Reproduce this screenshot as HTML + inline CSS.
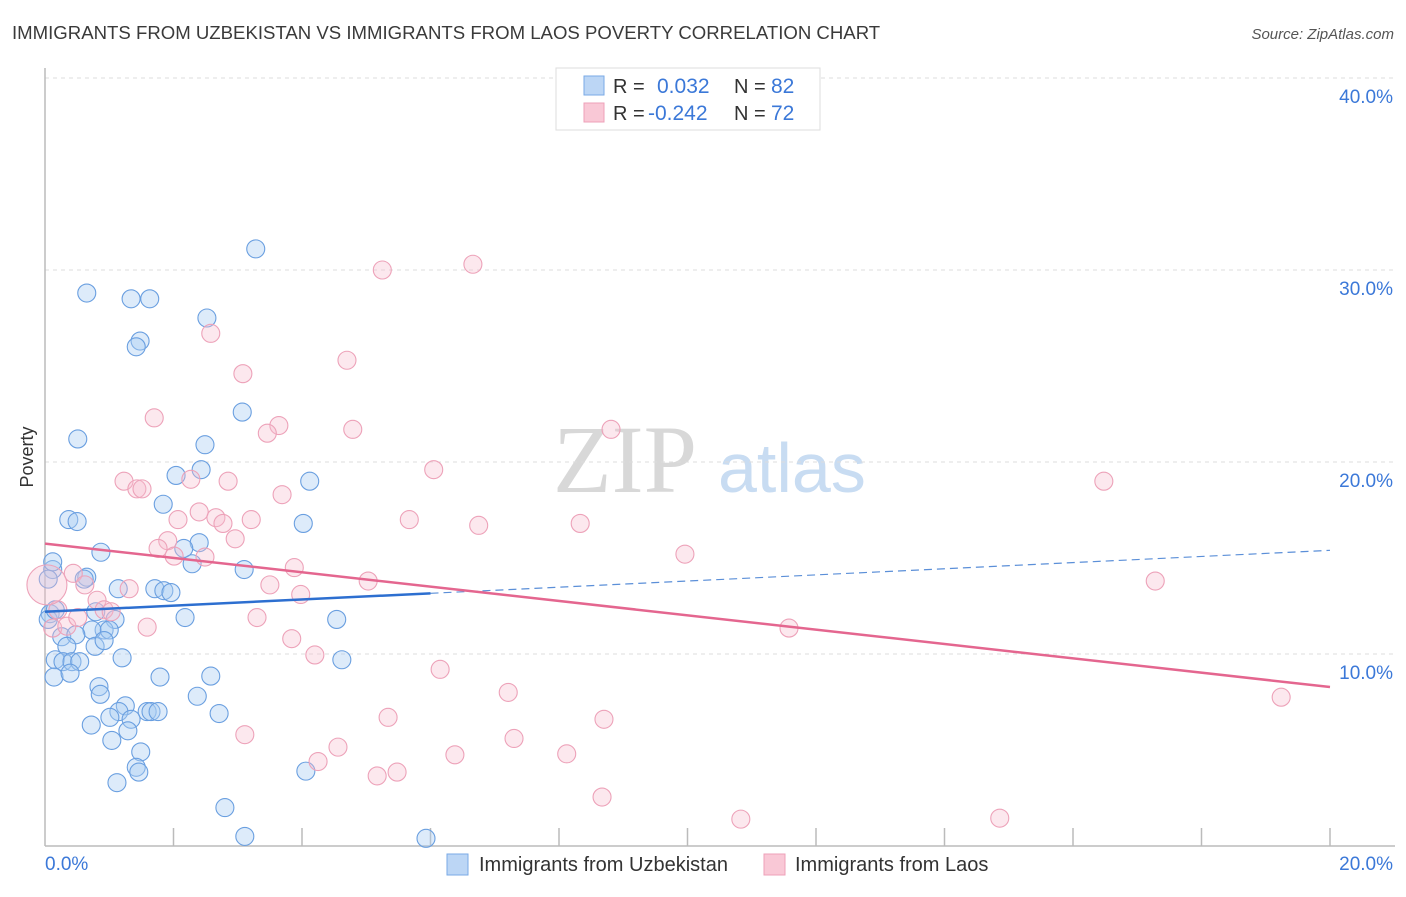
<!DOCTYPE html>
<html><head><meta charset="utf-8"><style>
body{margin:0;background:#fff;font-family:"Liberation Sans",sans-serif;}
svg text{font-family:"Liberation Sans",sans-serif;}
</style></head><body>
<svg id="chart" width="1406" height="892" xmlns="http://www.w3.org/2000/svg">
<text x="12" y="39" font-size="18.6" fill="#3a3a3a">IMMIGRANTS FROM UZBEKISTAN VS IMMIGRANTS FROM LAOS POVERTY CORRELATION CHART</text>
<text x="1394" y="39" font-size="15" fill="#555" font-style="italic" text-anchor="end">Source: ZipAtlas.com</text>
<g>
<text x="553" y="492" font-size="96" fill="#d8d8d8" font-family="Liberation Serif" style="font-family:'Liberation Serif',serif">ZIP</text>
<text x="718" y="492" font-size="70" fill="#c8dcf2">atlas</text>
</g>
<g id="grid"></g>
<line x1="45" y1="68" x2="45" y2="846" stroke="#bbb" stroke-width="1.5"/>
<line x1="45" y1="846" x2="1395" y2="846" stroke="#bbb" stroke-width="1.5"/>
<g id="ticks"></g>
<text transform="translate(33,457) rotate(-90)" font-size="18" fill="#333" text-anchor="middle">Poverty</text>
<text x="45" y="870" font-size="19" fill="#3b78d8">0.0%</text>
<text x="1393" y="870" font-size="19" fill="#3b78d8" text-anchor="end">20.0%</text>
<g id="points"></g>
<g id="lines"></g>
<g>
<rect x="556" y="68" width="264" height="62" fill="#fff" stroke="#ddd"/>
<rect x="584" y="76" width="20" height="19" fill="#bcd6f5" stroke="#7aaae6"/>
<rect x="584" y="103" width="20" height="19" fill="#f9c8d6" stroke="#eea0b8"/>
<text x="613" y="93" font-size="20" fill="#333">R =</text>
<text x="657" y="93" font-size="21" fill="#3b78d8">0.032</text>
<text x="734" y="93" font-size="20" fill="#333">N =</text>
<text x="771" y="93" font-size="21" fill="#3b78d8">82</text>
<text x="613" y="120" font-size="20" fill="#333">R =</text>
<text x="648" y="120" font-size="21" fill="#3b78d8">-0.242</text>
<text x="734" y="120" font-size="20" fill="#333">N =</text>
<text x="771" y="120" font-size="21" fill="#3b78d8">72</text>
</g>
<g>
<rect x="447" y="854" width="21" height="21" fill="#bcd6f5" stroke="#7aaae6"/>
<text x="479" y="871" font-size="20" fill="#333">Immigrants from Uzbekistan</text>
</g>
<g>
<rect x="764" y="854" width="21" height="21" fill="#f9c8d6" stroke="#eea0b8"/>
<text x="795" y="871" font-size="20" fill="#333">Immigrants from Laos</text>
</g>
</svg>
<script>
const yTicks=[10,20,30,40];
const xTicks=[2,4,6,8,10,12,14,16,18,20];
const blueX=[3.28,0.65,1.34,1.63,2.52,1.48,1.42,3.07,0.51,2.49,2.43,2.04,4.12,1.84,0.37,0.50,4.02,0.87,2.40,2.16,2.29,3.10,0.12,0.65,0.61,1.14,1.71,1.85,1.96,0.08,0.79,2.18,1.09,4.54,0.92,1.00,0.73,0.26,0.48,0.34,0.78,0.92,1.20,4.62,0.16,0.28,0.42,0.54,0.14,0.39,1.79,2.58,0.84,0.86,2.37,1.25,1.15,1.59,1.65,1.76,2.71,1.01,1.34,0.72,1.29,1.04,1.49,1.42,1.46,4.06,1.12,2.80,3.11,5.93,0.12,0.05,0.05,0.16];
const blueY=[31.1,28.8,28.5,28.5,27.5,26.3,26.0,22.6,21.2,20.9,19.6,19.3,19.0,17.8,17.0,16.9,16.8,15.3,15.8,15.5,14.7,14.4,14.4,14.0,13.9,13.4,13.4,13.3,13.2,12.1,12.2,11.9,11.8,11.8,11.25,11.25,11.25,10.9,11.0,10.4,10.4,10.7,9.8,9.7,9.7,9.6,9.6,9.6,8.8,9.0,8.8,8.85,8.3,7.9,7.8,7.3,7.0,7.0,7.0,7.0,6.9,6.7,6.6,6.3,6.0,5.5,4.9,4.1,3.85,3.9,3.3,2.0,0.5,0.4,14.8,13.9,11.8,12.3];
const pinkX=[6.66,5.25,2.58,4.70,3.08,1.70,3.64,3.46,4.79,8.81,6.05,16.48,1.23,2.27,1.43,1.51,2.85,3.69,2.07,2.40,2.66,2.77,3.21,5.67,6.75,8.33,2.96,1.91,1.76,2.01,2.49,9.96,0.44,0.62,1.31,3.50,5.03,17.28,3.88,3.98,0.81,0.92,1.03,1.59,3.30,0.20,0.12,0.34,0.51,3.84,4.20,6.15,11.58,7.21,19.24,5.34,8.70,3.11,7.30,4.56,6.38,8.12,4.25,5.17,5.48,8.67,10.83,14.86,0.03];
const pinkY=[30.3,30.0,26.7,25.3,24.6,22.3,21.9,21.5,21.7,21.7,19.6,19.0,19.0,19.1,18.6,18.6,19.0,18.3,17.0,17.4,17.1,16.8,17.0,17.0,16.7,16.8,16.0,15.9,15.5,15.1,15.05,15.2,14.2,13.6,13.4,13.6,13.8,13.8,14.5,13.1,12.8,12.3,12.2,11.4,11.9,12.3,11.35,11.45,11.9,10.8,9.95,9.2,11.35,8.0,7.75,6.7,6.6,5.8,5.6,5.15,4.75,4.8,4.4,3.65,3.85,2.55,1.4,1.45,13.6];
const blueTrend=[12.2,15.4];
const blueSolidEnd=6.0;
const pinkTrend=[15.75,8.28];
const NS='http://www.w3.org/2000/svg';
const sx=v=>45+v*64.25, sy=v=>846-v*19.2;
function mk(tag,attrs,parent){const e=document.createElementNS(NS,tag);for(const k in attrs)e.setAttribute(k,attrs[k]);parent.appendChild(e);return e;}
const grid=document.getElementById('grid'),ticks=document.getElementById('ticks'),pts=document.getElementById('points'),lines=document.getElementById('lines');
yTicks.forEach(t=>{
 const l=mk('line',{x1:45,x2:1395,y1:sy(t),y2:sy(t),stroke:'#ddd','stroke-dasharray':'4,4'},grid);
 
 
 const tx=mk('text',{x:1393,y:sy(t)+25,'font-size':19,fill:'#3b78d8','text-anchor':'end'},grid);
 tx.textContent=t.toFixed(1)+'%';
 
 
});
xTicks.forEach(t=>{
 const l=mk('line',{x1:sx(t),x2:sx(t),y1:828,y2:846,stroke:'#bbb','stroke-width':1.5},ticks);
 
 
});
blueX.forEach((x,i)=>{
 const c=mk('circle',{cx:sx(x),cy:sy(blueY[i]),r:9,fill:'rgba(170,204,242,0.4)',stroke:'#6a9fe0','stroke-width':1.1},pts);
 
 
});
pinkX.forEach((x,i)=>{
 const c=mk('circle',{cx:sx(x),cy:sy(pinkY[i]),r:i===pinkX.length-1?20:9,fill:'rgba(247,190,207,0.35)',stroke:'#eda2b9','stroke-width':1.1},pts);
 
 
});
const by=x=>blueTrend[0]+(blueTrend[1]-blueTrend[0])*x/20;
let l1=mk('line',{x1:sx(0),y1:sy(by(0)),x2:sx(blueSolidEnd),y2:sy(by(blueSolidEnd)),stroke:'#2d6fd0','stroke-width':2.5},lines);


let l2=mk('line',{x1:sx(blueSolidEnd),y1:sy(by(blueSolidEnd)),x2:sx(20),y2:sy(by(20)),stroke:'#5b8fd8','stroke-width':1.2,'stroke-dasharray':'8,5'},lines);


let l3=mk('line',{x1:sx(0),y1:sy(pinkTrend[0]),x2:sx(20),y2:sy(pinkTrend[1]),stroke:'#e4668f','stroke-width':2.5},lines);


</script>
</body></html>
